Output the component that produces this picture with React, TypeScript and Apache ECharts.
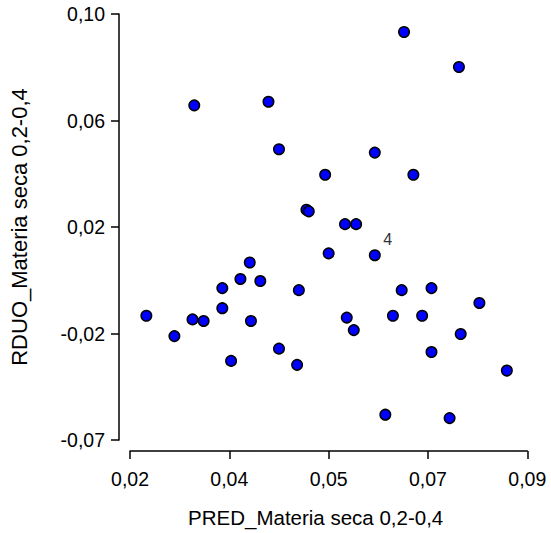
import React, { useEffect, useRef } from "react";
import * as echarts from "echarts";

// Data
const predValues: number[] = [
  0.0659, 0.0753, 0.0300, 0.0427, 0.0445, 0.0609, 0.0524, 0.0675, 0.0492, 0.0496,
  0.0558, 0.0577, 0.0530, 0.0609, 0.0395, 0.0379, 0.0413, 0.0348, 0.0479, 0.0655,
  0.0706, 0.0788, 0.0348, 0.0218, 0.0297, 0.0316, 0.0397, 0.0561, 0.0640, 0.0690,
  0.0573, 0.0756, 0.0266, 0.0445, 0.0363, 0.0476, 0.0706, 0.0835, 0.0627, 0.0737,
];
const rduoValues: number[] = [
  0.0911, 0.0777, 0.0630, 0.0644, 0.0462, 0.0449, 0.0364, 0.0364, 0.0230, 0.0224,
  0.0175, 0.0175, 0.0063, 0.0056, 0.0028, -0.0035, -0.0043, -0.0070, -0.0078, -0.0078,
  -0.0070, -0.0127, -0.0147, -0.0176, -0.0190, -0.0196, -0.0196, -0.0183, -0.0176, -0.0176,
  -0.0231, -0.0246, -0.0254, -0.0302, -0.0349, -0.0364, -0.0315, -0.0386, -0.0555, -0.0568,
];
const pointLabels: string[] = [
  "", "", "", "", "", "", "", "", "", "",
  "", "", "", "4", "", "", "", "", "", "",
  "", "", "", "", "", "", "", "", "", "",
  "", "", "", "", "", "", "", "", "", "",
];

const xTickValues: number[] = [0.019, 0.036, 0.053, 0.070, 0.087];
const xTickLabels: string[] = ["0,02", "0,04", "0,05", "0,07", "0,09"];
const yTickValues: number[] = [-0.0652, -0.0244, 0.0164, 0.0572, 0.098];
const yTickLabels: string[] = ["-0,07", "-0,02", "0,02", "0,06", "0,10"];

const xTitle = "PRED_Materia seca 0,2-0,4";
const yTitle = "RDUO_Materia seca 0,2-0,4";

const FONT = "'Liberation Sans', Arial, Helvetica, sans-serif";

function labelFor(values: number[], labels: string[], v: number): string {
  let best = 0;
  for (let i = 1; i < values.length; i++) {
    if (Math.abs(values[i] - v) < Math.abs(values[best] - v)) best = i;
  }
  return labels[best];
}

export default function App() {
  const ref = useRef<HTMLDivElement>(null);

  useEffect(() => {
    if (!ref.current) return;
    const chart = echarts.init(ref.current, null, { renderer: "svg" });
    const data = predValues.map((x, i) => ({
      value: [x, rduoValues[i]],
      label: pointLabels[i]
        ? {
            show: true,
            formatter: pointLabels[i],
            position: "top",
            offset: [13, 3],
            fontSize: 16,
            color: "#333",
            fontFamily: FONT,
          }
        : { show: false },
    }));

    chart.setOption({
      animation: false,
      backgroundColor: "#ffffff",
      grid: { left: 126, top: 14, width: 401.3, height: 432.5, containLabel: false },
      xAxis: {
        type: "value",
        min: xTickValues[0],
        max: xTickValues[xTickValues.length - 1],
        offset: 11,
        name: xTitle,
        nameLocation: "middle",
        nameGap: 56,
        nameTextStyle: { fontSize: 20.5, color: "#000", fontFamily: FONT, padding: [0, 26, 0, 0] },
        axisLine: { show: true, onZero: false, lineStyle: { color: "#000", width: 1.5 } },
        axisTick: { show: true, length: 8, lineStyle: { color: "#000", width: 1.5 }, customValues: xTickValues },
        axisLabel: {
          customValues: xTickValues,
          margin: 18,
          fontSize: 19.5,
          color: "#000",
          fontFamily: FONT,
          formatter: (v: number) => labelFor(xTickValues, xTickLabels, v),
        },
        splitLine: { show: false },
      },
      yAxis: {
        type: "value",
        min: yTickValues[0],
        max: yTickValues[yTickValues.length - 1],
        offset: 11,
        name: yTitle,
        nameLocation: "middle",
        nameGap: 89,
        nameTextStyle: { fontSize: 22, color: "#000", fontFamily: FONT },
        axisLine: { show: true, onZero: false, lineStyle: { color: "#000", width: 1.5 } },
        axisTick: { show: true, length: 8, lineStyle: { color: "#000", width: 1.5 }, customValues: yTickValues },
        axisLabel: {
          customValues: yTickValues,
          margin: 14,
          fontSize: 19.5,
          color: "#000",
          fontFamily: FONT,
          formatter: (v: number) => labelFor(yTickValues, yTickLabels, v),
        },
        splitLine: { show: false },
      },
      series: [
        {
          type: "scatter",
          symbol: "circle",
          symbolSize: 10.5,
          itemStyle: { color: "#0000ff", borderColor: "#000", borderWidth: 1.5, opacity: 1 },
          data,
        },
      ],
    });
    return () => chart.dispose();
  }, []);

  return (
    <div
      ref={ref}
      style={{ position: "fixed", left: 0, top: 0, width: 551, height: 533, background: "#fff" }}
    />
  );
}
